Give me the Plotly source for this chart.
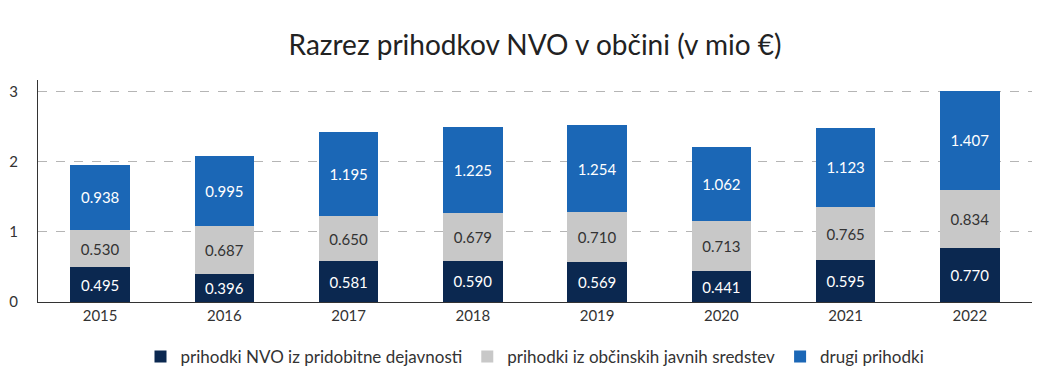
import plotly.graph_objects as go

years = ["2015", "2016", "2017", "2018", "2019", "2020", "2021", "2022"]
pridobitna = [0.495, 0.396, 0.581, 0.590, 0.569, 0.441, 0.595, 0.770]
obcinska = [0.530, 0.687, 0.650, 0.679, 0.710, 0.713, 0.765, 0.834]
drugi = [0.938, 0.995, 1.195, 1.225, 1.254, 1.062, 1.123, 1.407]

names = ["prihodki NVO iz pridobitne dejavnosti",
         "prihodki iz občinskih javnih sredstev",
         "drugi prihodki"]
colors = ["#0b2850", "#c8c8c8", "#1b67b6"]
text_colors = ["white", "#333333", "white"]

fig = go.Figure()
for vals, name, col, tc in zip([pridobitna, obcinska, drugi], names, colors, text_colors):
    fig.add_trace(go.Bar(
        x=years, y=vals, name=name, marker=dict(color=col, line=dict(width=0)),
        text=[f"{v:.3f}" for v in vals], textposition="inside", insidetextanchor="middle",
        textfont=dict(color=tc, size=15, family="Lato"), textangle=0,
        hoverinfo="skip",
    ))

fig.update_layout(
    barmode="stack",
    bargap=0.52,
    width=1037, height=391,
    margin=dict(l=38, r=5, t=80, b=89, autoexpand=False),
    paper_bgcolor="white", plot_bgcolor="white",
    font=dict(family="Lato", size=14, color="#333333"),
    title=dict(text="Razrez prihodkov NVO v občini (v mio €)", x=0.5, xanchor="center",
               xref="paper", yref="container",
               y=1 - 45 / 391, yanchor="middle", font=dict(size=28, color="#222222", family="Lato")),
    legend=dict(orientation="h", x=0.5, xanchor="center", yref="container", y=1 - 357 / 391,
                yanchor="middle", font=dict(size=17, color="#333333"), traceorder="normal"),
    uniformtext=dict(minsize=8, mode="show"),
)
fig.update_xaxes(showline=True, linecolor="#333333", linewidth=1, ticks="", showgrid=False,
                 tickfont=dict(size=15, color="#333333"), automargin=False)
fig.update_yaxes(range=[0, 3.17], tickvals=[0, 1, 2, 3], showline=True, linecolor="#333333",
                 linewidth=1, showgrid=True, gridcolor="#b5b5b5", griddash="dash", gridwidth=1,
                 zeroline=False, ticks="", tickfont=dict(size=15, color="#333333"),
                 ticklabelstandoff=16, automargin=False)

fig.write_html("out.html", config={"displayModeBar": False},
               post_script="document.body.style.margin='0';document.body.style.overflow='hidden';")
